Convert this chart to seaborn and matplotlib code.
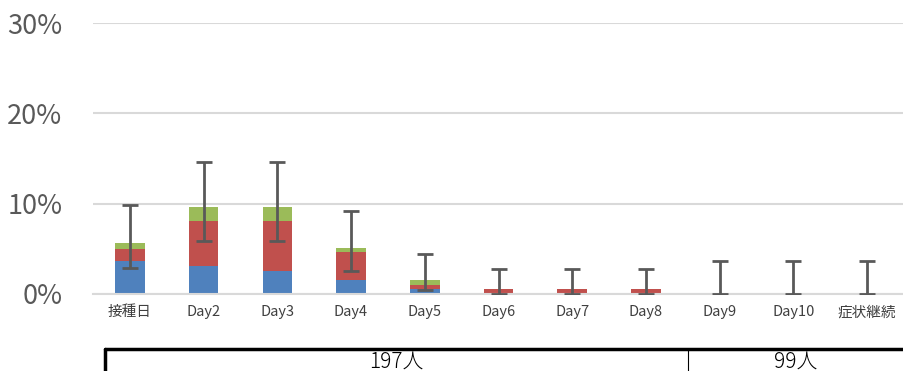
import matplotlib
matplotlib.use('Agg')
import matplotlib.pyplot as plt
import seaborn as sns
import pandas as pd

categories = ['接種日', 'Day2', 'Day3', 'Day4', 'Day5', 'Day6', 'Day7', 'Day8', 'Day9', 'Day10', '症状継続']
blue_vals = [3.6, 3.05, 2.5, 1.5, 0.5, 0, 0, 0, 0, 0, 0]
red_vals = [1.4, 5.05, 5.6, 3.1, 0.5, 0.5, 0.5, 0.5, 0, 0, 0]
green_vals = [0.6, 1.5, 1.5, 0.5, 0.55, 0, 0, 0, 0, 0, 0]
err_low = [2.9, 5.9, 5.9, 2.5, 0.4, 0, 0, 0, 0, 0, 0]
err_high = [9.8, 14.6, 14.6, 9.2, 4.4, 2.8, 2.8, 2.8, 3.7, 3.7, 3.7]
groups = ['197人', '99人']
group_sizes = [8, 3]

sns.set_style('white')
plt.rcParams['font.family'] = ['Noto Sans CJK JP', 'DejaVu Sans']

df = pd.DataFrame({'cat': categories, 'blue': blue_vals, 'red': red_vals, 'green': green_vals})
df['s1'] = df['blue']
df['s2'] = df['blue'] + df['red']
df['s3'] = df['s2'] + df['green']

fig = plt.figure(figsize=(9.04, 3.71), dpi=100)
ax = fig.add_axes([93 / 904, 77 / 371, 811 / 904, 271 / 371])

sns.barplot(data=df, x='cat', y='s3', color='#9bbb59', width=0.4, saturation=1, linewidth=0, ax=ax)
sns.barplot(data=df, x='cat', y='s2', color='#c0504d', width=0.4, saturation=1, linewidth=0, ax=ax)
sns.barplot(data=df, x='cat', y='s1', color='#4f81bd', width=0.4, saturation=1, linewidth=0, ax=ax)

# error bars (low/high)
xs = list(range(len(categories)))
mid = [(a + b) / 2 for a, b in zip(err_low, err_high)]
half = [(b - a) / 2 for a, b in zip(err_low, err_high)]
ax.errorbar(xs, mid, yerr=half, fmt='none', ecolor='#595959', elinewidth=2, capsize=6, capthick=2, zorder=5)

ax.set_ylim(0, 30)
ax.set_xlim(-0.5, len(categories) - 0.5)
ax.set_yticks([0, 10, 20, 30])
ax.set_yticklabels(['0%', '10%', '20%', '30%'], fontsize=19.5, color='#595959')
ax.tick_params(axis='y', length=0, pad=22)
ax.tick_params(axis='x', length=0, pad=8, labelsize=10.5, labelcolor='#404040')
ax.set_xlabel('')
ax.set_ylabel('')
ax.grid(axis='y', color='#d9d9d9', linewidth=1.5)
ax.set_axisbelow(True)
for s in ['top', 'right', 'left']:
    ax.spines[s].set_visible(False)
ax.spines['bottom'].set_color('#d9d9d9')
ax.spines['bottom'].set_linewidth(1.5)

# group table under the chart
y_line = -6.1
y_bottom = -9
x0 = -0.34
ax.plot([x0, len(categories) - 0.5], [y_line, y_line], color='black', lw=2.5, clip_on=False)
ax.plot([x0, x0], [y_line, y_bottom], color='black', lw=2.5, clip_on=False)
start = x0
pos = -0.5
for g, n in zip(groups, group_sizes):
    end = pos + n
    if end < len(categories) - 0.5:
        ax.plot([end + 0.07, end + 0.07], [y_line, y_bottom], color='black', lw=0.8, clip_on=False)
    ax.text((start + min(end + 0.07, len(categories) - 0.5)) / 2, -7.6, g, ha='center', va='center',
            fontsize=15, fontweight='light', color='black', clip_on=False)
    start = end + 0.07
    pos = end

fig.savefig('out.png', dpi=100)
